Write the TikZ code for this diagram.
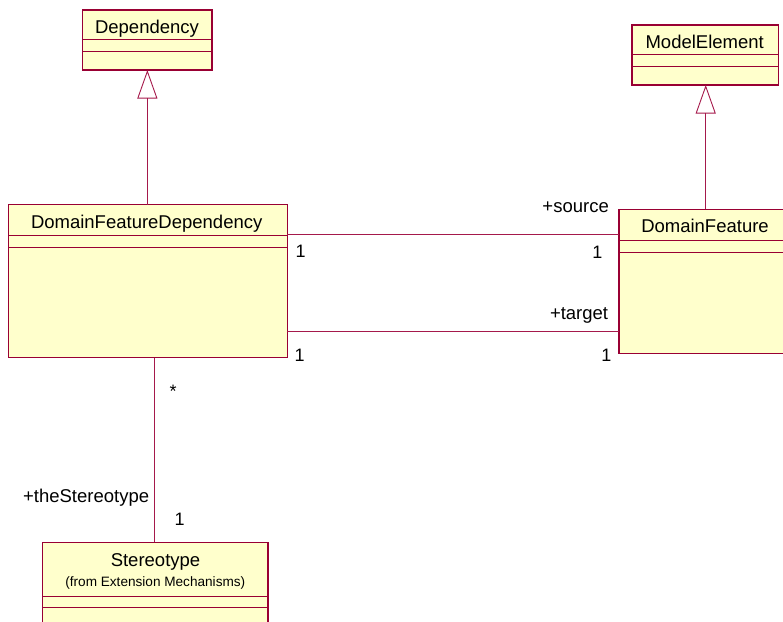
\documentclass[tikz,border=0pt]{standalone}
\usepackage{fontspec}
\setmainfont{Liberation Sans}
\usetikzlibrary{arrows.meta}
\definecolor{umlborder}{RGB}{153,0,51}
\definecolor{umlfill}{RGB}{255,255,204}
\definecolor{umlline}{RGB}{165,25,75}
\begin{document}
\begin{tikzpicture}[x=1pt,y=-1pt,
  classbox/.style={draw=umlborder, fill=umlfill, line width=1.2pt, anchor=north west, inner sep=0pt, outer sep=0pt},
  sepline/.style={draw=umlborder, line width=0.8pt},
  conn/.style={draw=umlline, line width=0.9pt},
  gen/.style={conn, -{Triangle[open, length=28.5pt, width=20pt, line width=0.9pt]}},
  lbl/.style={font=\fontsize{18.5}{20}\selectfont, inner sep=0pt, anchor=base},
  mult/.style={font=\fontsize{18}{20}\selectfont, inner sep=0pt, anchor=base},
  small/.style={font=\fontsize{13.6}{15}\selectfont, inner sep=0pt, anchor=base}
]
\useasboundingbox (0,0) rectangle (783,621);
\clip (0,0) rectangle (783,621);

% Dependency
\node[classbox, minimum width=129.3pt, minimum height=60pt] (dep) at (82.7,10) {};
\draw[sepline] (dep.west |- 0,39.3) -- (dep.east |- 0,39.3);
\draw[sepline] (dep.west |- 0,51.3) -- (dep.east |- 0,51.3);
\node[lbl] (depname) at (147,33.3) {Dependency};

% ModelElement
\node[classbox, minimum width=146.7pt, minimum height=60pt] (me) at (632,25) {};
\draw[sepline] (me.west |- 0,54.3) -- (me.east |- 0,54.3);
\draw[sepline] (me.west |- 0,66) -- (me.east |- 0,66);
\node[lbl] (mename) at (704.7,48.3) {ModelElement};

% DomainFeatureDependency
\node[classbox, minimum width=279pt, minimum height=153pt] (dfd) at (8.3,204.7) {};
\draw[sepline] (dfd.west |- 0,235.7) -- (dfd.east |- 0,235.7);
\draw[sepline] (dfd.west |- 0,247.3) -- (dfd.east |- 0,247.3);
\node[lbl] (dfdname) at (146.7,228.3) {DomainFeatureDependency};

% DomainFeature
\node[classbox, minimum width=172pt, minimum height=144pt] (df) at (619,209.3) {};
\draw[sepline] (df.west |- 0,240.7) -- (df.east |- 0,240.7);
\draw[sepline] (df.west |- 0,252) -- (df.east |- 0,252);
\node[lbl] (dfname) at (705,232.3) {DomainFeature};

% Stereotype
\node[classbox, minimum width=225.3pt, minimum height=100pt] (st) at (42.7,542.3) {};
\draw[sepline] (st.west |- 0,596) -- (st.east |- 0,596);
\draw[sepline] (st.west |- 0,607.3) -- (st.east |- 0,607.3);
\node[lbl] (stname) at (155.5,566) {Stereotype};
\node[small] (stfrom) at (155.3,586.7) {(from Extension Mechanisms)};

% Generalizations
\draw[gen] (dep.south |- dfd.north) -- (dep.south);
\coordinate (mex) at (705.7,0);
\draw[gen] (mex |- df.north) -- (mex |- me.south);

% Associations
\coordinate (srcy) at (0,234);
\coordinate (tgty) at (0,331.7);
\draw[conn] (dfd.east |- srcy) -- (df.west |- srcy);
\draw[conn] (dfd.east |- tgty) -- (df.west |- tgty);
\coordinate (stx) at (154.3,0);
\draw[conn] (stx |- dfd.south) -- (stx |- st.north);

% Association labels
\node[lbl, anchor=base east] (lsource) at (609,212.7) {+source};
\node[mult] (m1) at (300.7,257.7) {1};
\node[mult] (m2) at (597.3,258.3) {1};
\node[lbl, anchor=base east] (ltarget) at (608.3,319) {+target};
\node[mult] (m3) at (299.7,361.7) {1};
\node[mult] (m4) at (606.3,361.7) {1};
\node[mult] (mstar) at (173,397.5) {*};
\node[lbl, anchor=base east] (lstereo) at (149.3,502.3) {+theStereotype};
\node[mult] (m5) at (179.7,525) {1};
\end{tikzpicture}
\end{document}
